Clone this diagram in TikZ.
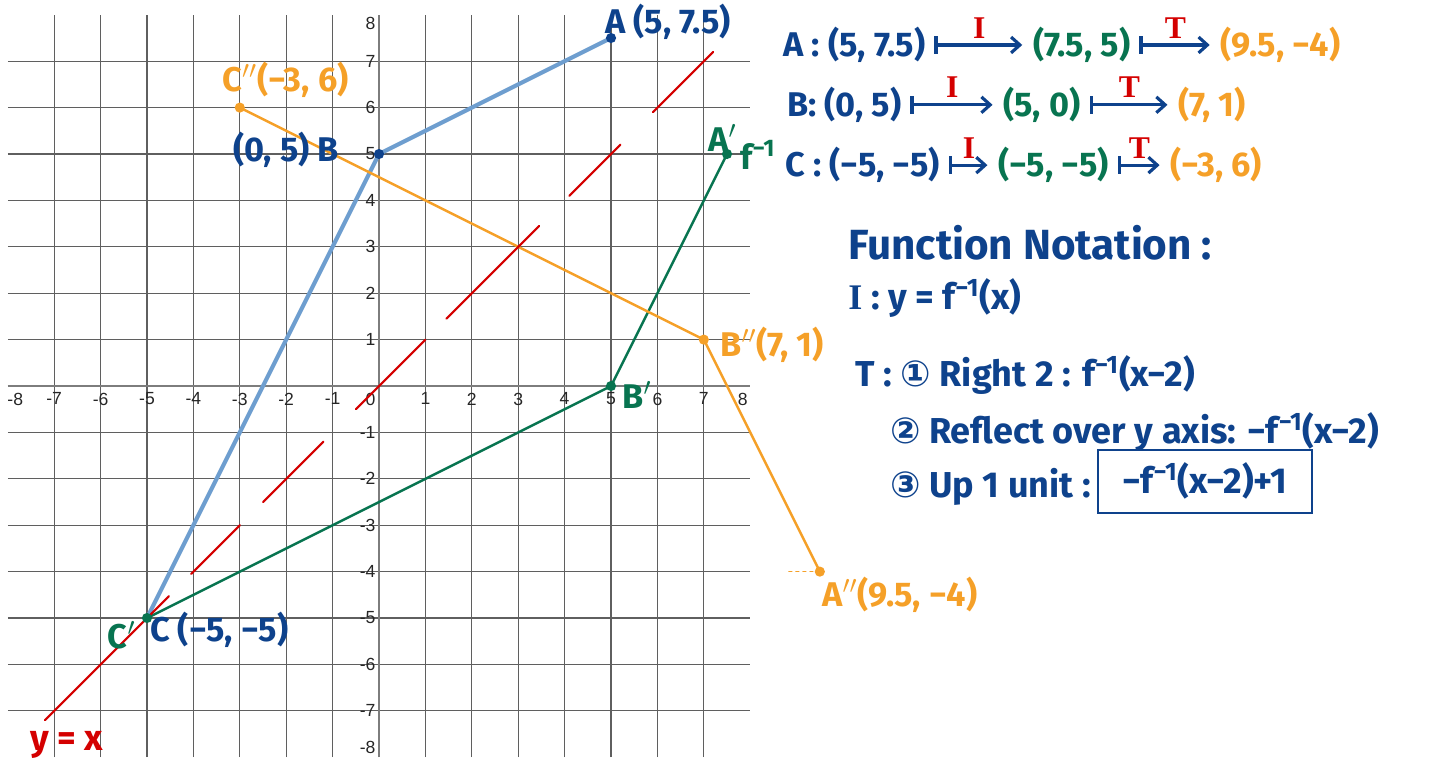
\documentclass[tikz,border=0pt]{standalone}
\usepackage{fontspec}
\setmainfont{Fira Sans}
\newfontfamily\symfont{DejaVu Sans}
\newfontfamily\axisfont{Liberation Sans}
\newfontfamily\labfont{Liberation Serif}
\usetikzlibrary{positioning,arrows.meta,calc}

\definecolor{inkblue}{RGB}{14,66,140}
\definecolor{skyblue}{RGB}{110,158,207}
\definecolor{inkgreen}{RGB}{8,116,80}
\definecolor{inkorange}{RGB}{245,160,40}
\definecolor{inkred}{RGB}{212,0,0}
\definecolor{gridgray}{RGB}{95,95,95}
\definecolor{axisgray}{RGB}{125,125,125}

\newcommand{\handsize}{\fontsize{19.5}{22}\selectfont\bfseries}
\newcommand{\notesize}{\fontsize{20.5}{24}\selectfont\bfseries}
\newcommand{\headsize}{\fontsize{24}{27}\selectfont\bfseries}

\begin{document}
\begin{tikzpicture}[x=0.928cm,y=0.928cm,
  gridline/.style={draw=gridgray,line width=0.75pt},
  axisline/.style={draw=axisgray,line width=1.4pt},
  tick/.style={font=\axisfont\fontsize{10}{11}\selectfont,text=black!85,inner sep=0pt},
  hand/.style={font=\handsize,text=#1,inner sep=0pt,anchor=west},
  mapsto/.style={{Bar[width=10pt]}-{Straight Barb[length=5pt,width=9pt]},line width=1.8pt,inkblue,shorten <=5pt,shorten >=6pt},
  oplab/.style={font=\labfont\bfseries\fontsize{18}{19}\selectfont,text=inkred,inner sep=1pt},
  shapeline/.style={line width=#1,line join=round,line cap=round},
]

\useasboundingbox (-8.168,-8.276) rectangle (22.909,8.319);

% === GRID AND AXES ===
\foreach \i in {-7,...,7} {
  \draw[gridline] (\i,-8) -- (\i,8);
  \draw[gridline] (-8,\i) -- (8,\i);
}
\draw[axisline] (-8,0) -- (8,0);
\draw[axisline] (0,-8) -- (0,8);

\foreach \i in {-7,...,-1,1,2,...,7} {
  \node[tick,anchor=north] (tx\i) at (\i,-0.14) {\i};
  \node[tick,anchor=east] (ty\i) at (-0.07,\i) {\i};
}
\node[tick,anchor=north] (txl) at (-7.84,-0.14) {-8};
\node[tick,anchor=north] (txr) at (7.84,-0.14) {8};
\node[tick,anchor=east] (tyt) at (-0.07,7.82) {8};
\node[tick,anchor=east] (tyb) at (-0.07,-7.8) {-8};
\node[tick,anchor=north east] (t0) at (-0.07,-0.14) {0};

% === TRIANGLE POINTS ===
\coordinate (A) at (5,7.5);
\coordinate (B) at (0,5);
\coordinate (C) at (-5,-5);
\coordinate (A1) at (7.5,5);
\coordinate (B1) at (5,0);
\coordinate (C1) at (-5,-5);
\coordinate (A2) at (9.5,-4);
\coordinate (B2) at (7,1);
\coordinate (C2) at (-3,6);

\draw[shapeline=2.3pt,skyblue] (A) -- (B) -- (C);
\draw[shapeline=1.4pt,inkgreen] (A1) -- (B1) -- (C1);
\draw[shapeline=1.4pt,inkorange] (C2) -- (B2) -- (A2);
\draw[shapeline=1pt,inkorange,dash pattern=on 1.5pt off 2.5pt] (A2) -- ++(-0.72,0);

% y = x, drawn in pieces
\foreach \a/\b in {-7.2/-4.53,-4.05/-3,-2.5/-1.2,-0.5/1,1.45/3.45,4.1/5.2,5.9/7.2}
  \draw[shapeline=1.2pt,inkred] (\a,\a) -- (\b,\b);

\foreach \p in {A,B} \fill[inkblue] (\p) circle (2.9pt);
\foreach \p in {A1,B1,C1} \fill[inkgreen] (\p) circle (2.9pt);
\foreach \p in {A2,B2,C2} \fill[inkorange] (\p) circle (2.9pt);

% === GRAPH LABELS ===
\node[hand=inkblue] (labA) at (4.87,7.84) {A (5, 7.5)};
\node[hand=inkorange] (labC2) at (-3.38,6.59) {C$''$(−3, 6)};
\node[hand=inkblue] (labB) at (-3.15,5.09) {(0, 5) B};
\node[hand=inkgreen] (labA1) at (7.09,5.34) {A$'$};
\node[hand=inkgreen] (labf) at (7.78,4.98) {f\textsuperscript{−1}};
\node[hand=inkgreen] (labB1) at (5.24,-0.19) {B$'$};
\node[hand=inkorange] (labB2) at (7.35,0.88) {B$''$(7, 1)};
\node[hand=inkorange] (labA2) at (9.55,-4.5) {A$''$(9.5, −4)};
\node[hand=inkgreen] (labC1) at (-5.85,-5.37) {C$'$};
\node[hand=inkblue] (labC) at (-4.94,-5.26) {C (−5, −5)};
\node[hand=inkred,font=\notesize] (labyx) at (-7.52,-7.74) {y = x};

% === MAPPING TABLE ===
\node[hand=inkblue] (mA) at (8.71,7.35) {A : (5, 7.5)};
\node[hand=inkgreen] (mA1) at (14.09,7.35) {(7.5, 5)};
\node[hand=inkorange] (mA2) at (18.13,7.35) {(9.5, −4)};
\draw[mapsto] (mA) -- node[oplab,above=2pt] (opA1) {I} (mA1);
\draw[mapsto] (mA1) -- node[oplab,above=2pt] (opA2) {T} (mA2);

\node[hand=inkblue] (mB) at (8.79,6.06) {B: (0, 5)};
\node[hand=inkgreen] (mB1) at (13.45,6.06) {(5, 0)};
\node[hand=inkorange] (mB2) at (17.22,6.06) {(7, 1)};
\draw[mapsto] (mB) -- node[oplab,above=2pt] (opB1) {I} (mB1);
\draw[mapsto] (mB1) -- node[oplab,above=2pt] (opB2) {T} (mB2);

\node[hand=inkblue] (mC) at (8.75,4.76) {C : (−5, −5)};
\node[hand=inkgreen] (mC1) at (13.34,4.76) {(−5, −5)};
\node[hand=inkorange] (mC2) at (17.05,4.76) {(−3, 6)};
\draw[mapsto] (mC) -- node[oplab,above=2pt] (opC1) {I} (mC1);
\draw[mapsto] (mC1) -- node[oplab,above=2pt] (opC2) {T} (mC2);

% === FUNCTION NOTATION ===
\node[hand=inkblue,font=\headsize] (fn) at (10.11,3.08) {Function Notation :};
\node[hand=inkblue,font=\notesize] (fnI) at (10.11,1.9) {{\labfont I} : y = f\textsuperscript{−1}(x)};
\node[hand=inkblue,font=\notesize] (fnT) at (10.26,0.24) {T : {\symfont ①} Right 2 : f\textsuperscript{−1}(x−2)};
\node[hand=inkblue,font=\notesize] (fn2) at (11.01,-0.99) {{\symfont ②} Reflect over y axis: −f\textsuperscript{−1}(x−2)};
\node[hand=inkblue,font=\notesize] (fn3) at (11.01,-2.18) {{\symfont ③} Up 1 unit :};
\node[hand=inkblue,font=\notesize,anchor=center,draw=inkblue,line width=1.2pt,minimum width=4.28cm,minimum height=1.26cm] (fnbox) at (17.8,-2.05) {−f\textsuperscript{−1}(x−2)+1};

\end{tikzpicture}
\end{document}
